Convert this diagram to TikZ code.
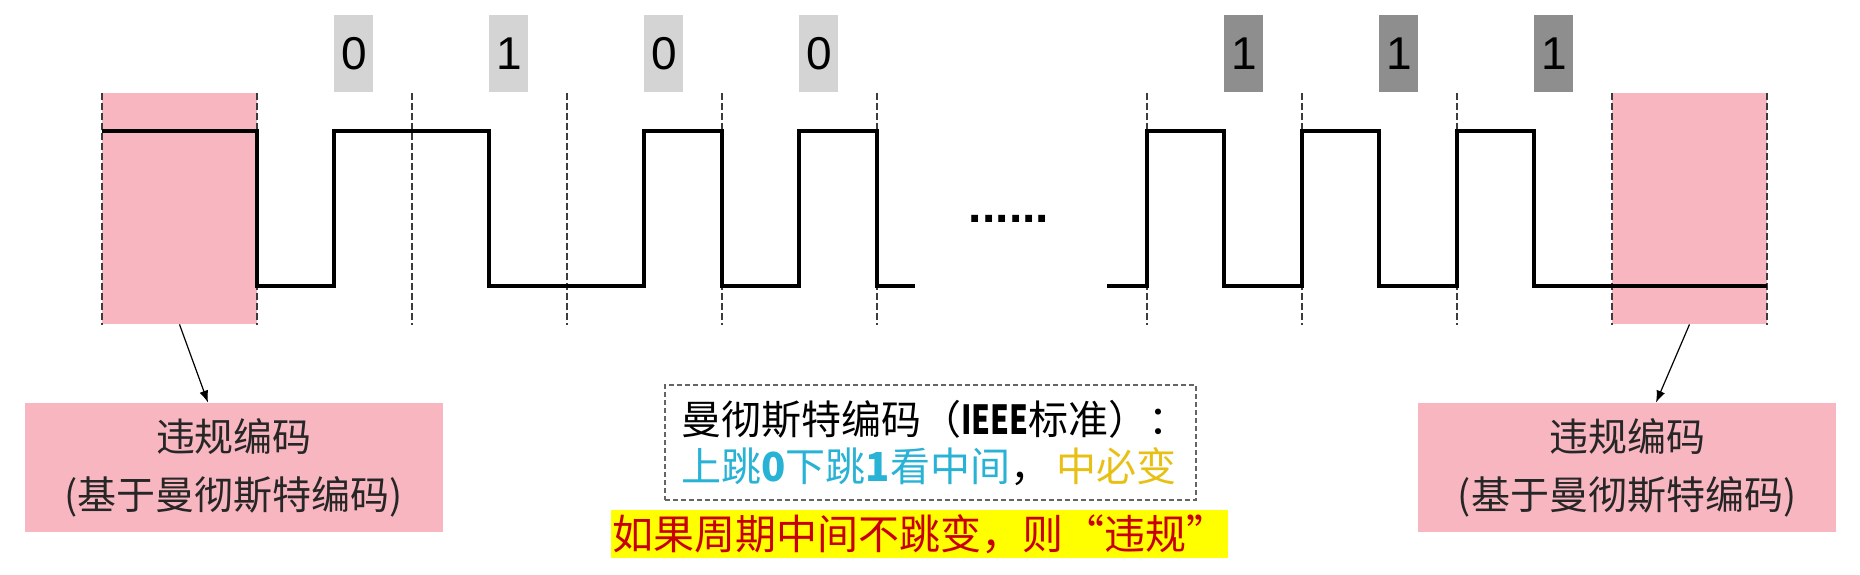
\documentclass[tikz,border=0pt]{standalone}
\usepackage{fontspec}
\usepackage{graphicx}
\setmainfont{Noto Sans CJK SC}
\newfontfamily\helv{Liberation Sans}
\usetikzlibrary{arrows.meta}
\definecolor{zonepink}{RGB}{248,182,193}
\definecolor{lightlab}{RGB}{212,212,212}
\definecolor{darklab}{RGB}{142,142,142}
\definecolor{cyantext}{RGB}{40,178,214}
\definecolor{goldtext}{RGB}{232,192,20}
\definecolor{redtext}{RGB}{200,0,0}
\definecolor{hlyellow}{RGB}{255,255,0}
\definecolor{dashgrey}{RGB}{60,60,60}
\definecolor{boxgrey}{RGB}{100,100,100}
\tikzset{
  pinkzone/.style={fill=zonepink, draw=none, inner sep=0pt, minimum width=77.5pt, minimum height=115.5pt},
  infobox/.style={fill=zonepink, draw=none, inner sep=0pt, minimum width=209pt, minimum height=64.5pt,
     align=center, text=black!85, font=\fontsize{19.5pt}{29pt}\selectfont},
  bitlab/.style={inner sep=0pt, minimum width=19.5pt, minimum height=38.5pt, anchor=west,
     font=\helv\fontsize{23pt}{23pt}\selectfont},
  bitlight/.style={bitlab, fill=lightlab},
  bitdark/.style={bitlab, fill=darklab},
  gridline/.style={draw=dashgrey, line width=0.6pt, dash pattern=on 3.5pt off 1.5pt},
  wave/.style={draw=black, line width=1.6pt, line join=miter},
  arr/.style={draw=black, line width=0.6pt, -{Latex[length=6pt,width=4.5pt]}},
  notebox/.style={draw=boxgrey, line width=0.7pt, dash pattern=on 2.5pt off 1.5pt, inner sep=0pt,
     minimum width=265.5pt, minimum height=57.5pt},
  notetext/.style={inner sep=0pt, anchor=base west, font=\fontsize{20pt}{24pt}\selectfont},
  warnbox/.style={fill=hlyellow, text=redtext, inner sep=0pt, minimum width=308.5pt, minimum height=24pt,
     font=\fontsize{20.5pt}{24pt}\selectfont}
}
\begin{document}
\begin{tikzpicture}[x=0.5pt,y=-0.5pt]
\useasboundingbox[fill=white] (0,0) rectangle (1860,574);

% violation zones
\node[pinkzone] (lz) at (179.5,208.5) {};
\node[pinkzone] (rz) at (1689.5,208.5) {};

% bit boundary dashed lines
\foreach \xx in {102,257,412,567,722,877,1147,1302,1457,1612,1767}
  \draw[gridline] (\xx,93) -- (\xx,325);

% waveform
\draw[wave] (102,131) -- (257,131) -- (257,286) -- (334,286) -- (334,131) -- (489,131) -- (489,286)
  -- (644,286) -- (644,131) -- (722,131) -- (722,286) -- (799,286) -- (799,131) -- (877,131)
  -- (877,286) -- (915,286);
\draw[wave] (1107,286) -- (1147,286) -- (1147,131) -- (1224,131) -- (1224,286) -- (1302,286)
  -- (1302,131) -- (1379,131) -- (1379,286) -- (1457,286) -- (1457,131) -- (1534,131)
  -- (1534,286) -- (1767,286);

% ellipsis
\node[inner sep=0pt, font=\helv\bfseries\fontsize{24pt}{24pt}\selectfont] (dots) at (1009,219) {......};

% bit labels
\node[bitlight] (b1) at (334,53.5) {0};
\node[bitlight] (b2) at (489,53.5) {1};
\node[bitlight] (b3) at (644,53.5) {0};
\node[bitlight] (b4) at (799,53.5) {0};
\node[bitdark] (b5) at (1224,53.5) {1};
\node[bitdark] (b6) at (1379,53.5) {1};
\node[bitdark] (b7) at (1534,53.5) {1};

% info boxes
\node[infobox] (lb) at (234,467.5) {违规编码\\(基于曼彻斯特编码)};
\node[infobox] (rb) at (1627,467.5) {违规编码\\(基于曼彻斯特编码)};
\draw[arr] (lz.south) -- ([xshift=-13pt]lb.north);
\draw[arr] (rz.south) -- ([xshift=14.5pt]rb.north);

% center note
\node[notebox] (cb) at (930.5,442.5) {};
\node[notetext] (t1) at (681,434) {曼彻斯特编码（\scalebox{0.75}[1]{\textbf{IEEE}}标准）：};
\node[notetext] (t2) at (681,481) {\textcolor{cyantext}{上跳\textbf{0}下跳\textbf{1}看中间}，\hspace{3pt}\textcolor{goldtext}{中必变}};

% warning
\node[warnbox] (warn) at (919.5,534) {如果周期中间不跳变，则“违规”};
\end{tikzpicture}
\end{document}
